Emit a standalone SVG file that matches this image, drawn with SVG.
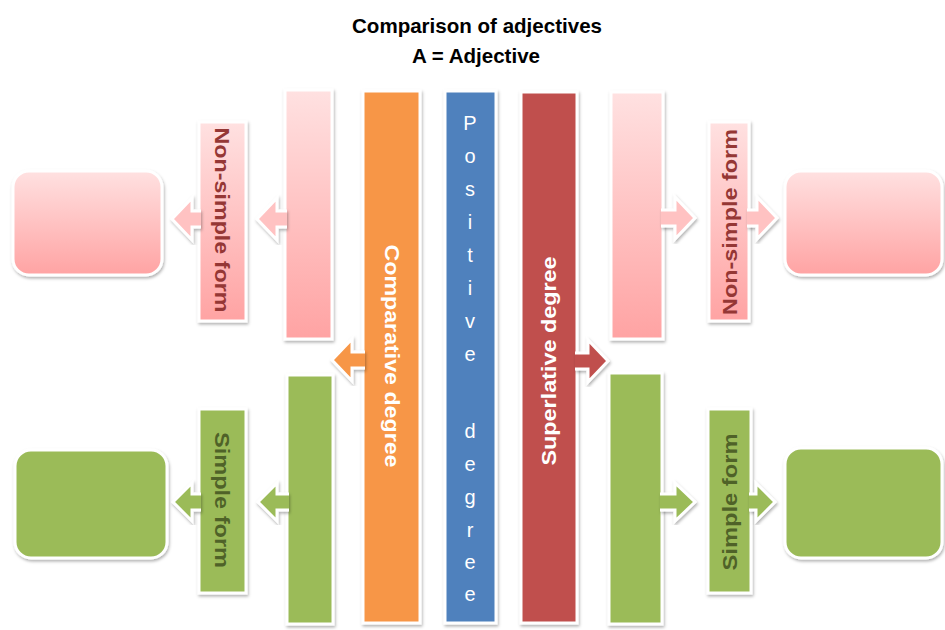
<svg xmlns="http://www.w3.org/2000/svg" width="945" height="630" viewBox="0 0 945 630">
<defs>
<linearGradient id="pink" x1="0" y1="0" x2="0" y2="1">
<stop offset="0" stop-color="#FFE1E1"/>
<stop offset="1" stop-color="#FFA3A3"/>
</linearGradient>
<filter id="sh" x="-20%" y="-10%" width="140%" height="120%">
<feDropShadow dx="1" dy="2" stdDeviation="1.5" flood-color="#000" flood-opacity="0.3"/>
</filter>
<style>
.box{stroke:#fff;stroke-width:3;filter:url(#sh)}
.arr{stroke:#fff;stroke-width:3;stroke-linejoin:miter;filter:url(#sh)}
.pink{fill:url(#pink)}
.pinkA{fill:#FFC2C2}
.green{fill:#9BBB59}
.orange{fill:#F79646}
.blue{fill:#4F81BD}
.red{fill:#C0504D}
.t{font-family:"Liberation Sans",Arial,sans-serif;font-weight:bold;font-size:20px;text-anchor:middle;dominant-baseline:central}
.title{font-family:"Liberation Sans",Arial,sans-serif;font-weight:bold;font-size:20.5px;text-anchor:middle;fill:#000}
.pos{font-family:"Liberation Sans",Arial,sans-serif;font-size:20px;text-anchor:middle;fill:#fff}
</style>
</defs>
<rect width="945" height="630" fill="#fff"/>
<g id="title">
<text class="title" x="477" y="33" textLength="250" lengthAdjust="spacingAndGlyphs">Comparison of adjectives</text>
<text class="title" x="476" y="63" textLength="128" lengthAdjust="spacingAndGlyphs">A = Adjective</text>
</g>
<g id="comparative">
<rect class="box orange" x="363" y="91" width="57" height="532"/>
<text class="t" fill="#fff" transform="translate(392,356) rotate(90)" textLength="223" lengthAdjust="spacingAndGlyphs">Comparative degree</text>
</g>
<g id="positive">
<rect class="box blue" x="445" y="91" width="51" height="532"/>
<text class="pos"><tspan x="470" y="130">P</tspan><tspan x="470" y="163">o</tspan><tspan x="470" y="196">s</tspan><tspan x="470" y="229">i</tspan><tspan x="470" y="262">t</tspan><tspan x="470" y="295">i</tspan><tspan x="470" y="328">v</tspan><tspan x="470" y="361">e</tspan><tspan x="470" y="438">d</tspan><tspan x="470" y="471">e</tspan><tspan x="470" y="504">g</tspan><tspan x="470" y="537">r</tspan><tspan x="470" y="569">e</tspan><tspan x="470" y="601">e</tspan></text>
</g>
<g id="superlative">
<rect class="box red" x="521" y="92" width="56" height="531"/>
<text class="t" fill="#fff" transform="translate(549,361) rotate(-90)" textLength="209" lengthAdjust="spacingAndGlyphs">Superlative degree</text>
</g>
<g id="left-pink-bar"><rect class="box pink" x="285" y="90" width="47" height="249"/></g>
<g id="left-nonsimple">
<rect class="box pink" x="199" y="122" width="47" height="199"/>
<text class="t" fill="#953735" transform="translate(222,220) rotate(90)" textLength="185" lengthAdjust="spacingAndGlyphs">Non-simple form</text>
</g>
<g id="left-pink-box"><rect class="box pink" x="13" y="171" width="149" height="104" rx="16"/></g>
<g id="right-pink-bar"><rect class="box pink" x="611" y="92" width="52" height="247"/></g>
<g id="right-nonsimple">
<rect class="box pink" x="709" y="122" width="40" height="199"/>
<text class="t" fill="#953735" transform="translate(730,222) rotate(-90)" textLength="186" lengthAdjust="spacingAndGlyphs">Non-simple form</text>
</g>
<g id="right-pink-box"><rect class="box pink" x="785" y="171" width="157" height="104" rx="16"/></g>
<g id="left-green-bar"><rect class="box green" x="287" y="375" width="46" height="249"/></g>
<g id="left-simple">
<rect class="box green" x="199" y="409" width="47" height="184"/>
<text class="t" fill="#4F6228" transform="translate(222,500) rotate(90)" textLength="136" lengthAdjust="spacingAndGlyphs">Simple form</text>
</g>
<g id="left-green-box"><rect class="box green" x="15" y="450" width="152" height="108" rx="16"/></g>
<g id="right-green-bar"><rect class="box green" x="609" y="373" width="53" height="251"/></g>
<g id="right-simple">
<rect class="box green" x="708" y="409" width="43" height="184"/>
<text class="t" fill="#4F6228" transform="translate(730,502) rotate(-90)" textLength="137" lengthAdjust="spacingAndGlyphs">Simple form</text>
</g>
<g id="right-green-box"><rect class="box green" x="785" y="448" width="157" height="110" rx="16"/></g>
<g id="connectors">
<path class="arr pinkA" d="M287,211 H277 V198 L257,219 L277,240 V227 H287"/>
<path class="arr pinkA" d="M201,211 H192 V198 L172,219 L192,240 V227 H201"/>
<path class="arr orange" d="M365,352 H352 V339 L332,360 L352,381 V368 H365"/>
<path class="arr red" d="M575,353 H588 V340 L608,361 L588,382 V369 H575"/>
<path class="arr pinkA" d="M661,210 H675 V197 L695,218 L675,239 V226 H661"/>
<path class="arr pinkA" d="M747,210 H757 V197 L777,218 L757,239 V226 H747"/>
<path class="arr green" d="M289,494 H277 V483 L258,502 L277,521 V510 H289"/>
<path class="arr green" d="M201,494 H192 V483 L173,502 L192,521 V510 H201"/>
<path class="arr green" d="M660,494 H675 V483 L695,502 L675,521 V510 H660"/>
<path class="arr green" d="M749,494 H756 V483 L775,502 L756,521 V510 H749"/>
</g>
</svg>
